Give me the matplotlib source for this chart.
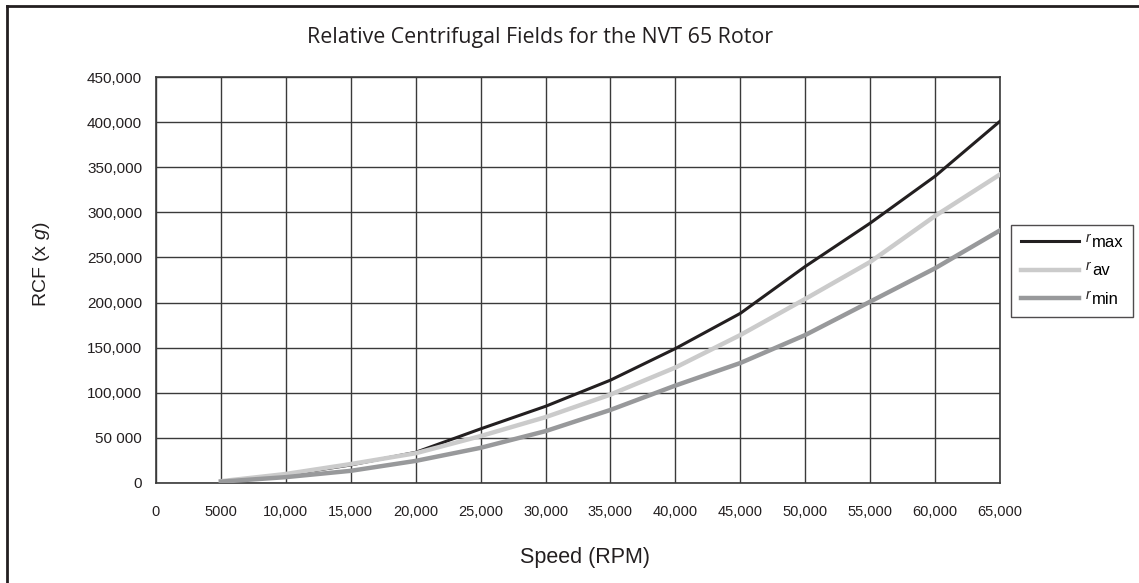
import matplotlib
matplotlib.use("Agg")
from matplotlib import pyplot as plt
from matplotlib.lines import Line2D

plt.rcParams['font.family'] = ['Liberation Sans', 'DejaVu Sans']
plt.rcParams['mathtext.fontset'] = 'custom'
plt.rcParams['mathtext.rm'] = 'Liberation Sans'
plt.rcParams['mathtext.it'] = 'Liberation Sans:italic'

# speed (RPM) and RCF values
speed = [5000, 10000, 15000, 20000, 25000, 30000, 35000, 40000,
         45000, 50000, 55000, 60000, 65000]
r_max = [2000, 9000, 20000, 34000, 60000, 85000, 114000, 149000,
         188000, 240000, 288000, 340000, 401000]
r_av = [2000, 10000, 21000, 33000, 52000, 73000, 98000, 128000,
        164000, 204000, 245000, 296000, 342000]
r_min = [1500, 6500, 13500, 24500, 39000, 57500, 81000, 108000,
         133000, 164000, 201000, 238000, 280000]

x_ticks = list(range(0, 65001, 5000))
x_labels = ['0', '5000', '10,000', '15,000', '20,000', '25,000', '30,000',
            '35,000', '40,000', '45,000', '50,000', '55,000', '60,000', '65,000']
y_ticks = list(range(0, 450001, 50000))
y_labels = ['0', '50 000', '100,000', '150,000', '200,000', '250,000',
            '300,000', '350,000', '400,000', '450,000']
# legend: italic r followed by subscript text drawn nearly full size
subs = ['max', 'av', 'min']

W, H = 1139, 583
fig = plt.figure(figsize=(W / 100, H / 100), dpi=100)
ax = fig.add_axes([156 / W, 1 - 483 / H, 844 / W, 406 / H])

ax.plot(speed, r_max, color='#231f20', lw=2.2, label=subs[0], zorder=3)
ax.plot(speed, r_av, color='#cbcbcb', lw=3.2, label=subs[1], zorder=4)
ax.plot(speed, r_min, color='#98999b', lw=3.2, label=subs[2], zorder=5)

ax.set_xlim(0, 65000)
ax.set_ylim(0, 450000)
ax.set_xticks(x_ticks)
ax.set_xticklabels(x_labels)
ax.set_yticks(y_ticks)
ax.set_yticklabels(y_labels)
ax.tick_params(length=0, colors='#231f20')
ax.tick_params(axis='x', pad=16, labelsize=10.5)
ax.tick_params(axis='y', pad=10, labelsize=11)
ax.grid(True, color='#3a3a3a', lw=1.0)
ax.set_axisbelow(True)
for s in ax.spines.values():
    s.set_color('#3a3a3a')
    s.set_linewidth(1.2)

leg = ax.legend(loc='center left', bbox_to_anchor=(1011 / W, 1 - 271 / H),
                bbox_transform=fig.transFigure, fontsize=12, frameon=True,
                fancybox=False, edgecolor='#231f20', handlelength=3.5,
                borderpad=0.6, labelspacing=0.8, handletextpad=0.75,
                borderaxespad=0)
leg.get_frame().set_linewidth(1.0)

fig.text(540 / W, 1 - 38 / H, 'Relative Centrifugal Fields for the NVT 65 Rotor',
         ha='center', va='center', fontsize=15.4, color='#231f20',
         family=['Open Sans', 'DejaVu Sans'])
fig.text(585 / W, 1 - 557 / H, 'Speed (RPM)', ha='center', va='center',
         fontsize=15.5, color='#231f20')
fig.text(42 / W, 1 - 264 / H, r'RCF (x $\mathit{g}$)', ha='center', va='center',
         rotation=90, fontsize=14, color='#231f20')

# outer frame: top and left edges only
fig.add_artist(Line2D([7 / W, 1], [1 - 6 / H, 1 - 6 / H], color='#231f20', lw=2))
fig.add_artist(Line2D([7 / W, 7 / W], [0, 1 - 6 / H], color='#231f20', lw=2))

# small raised italic r in front of each legend label
fig.canvas.draw()
for t in leg.get_texts():
    bb = t.get_window_extent()
    fig.text((bb.x0 - 1) / W, (bb.y0 + 8) / H, 'r', style='italic',
             fontsize=10, color='#231f20', ha='right', va='baseline')

fig.savefig('out.png', dpi=100)
